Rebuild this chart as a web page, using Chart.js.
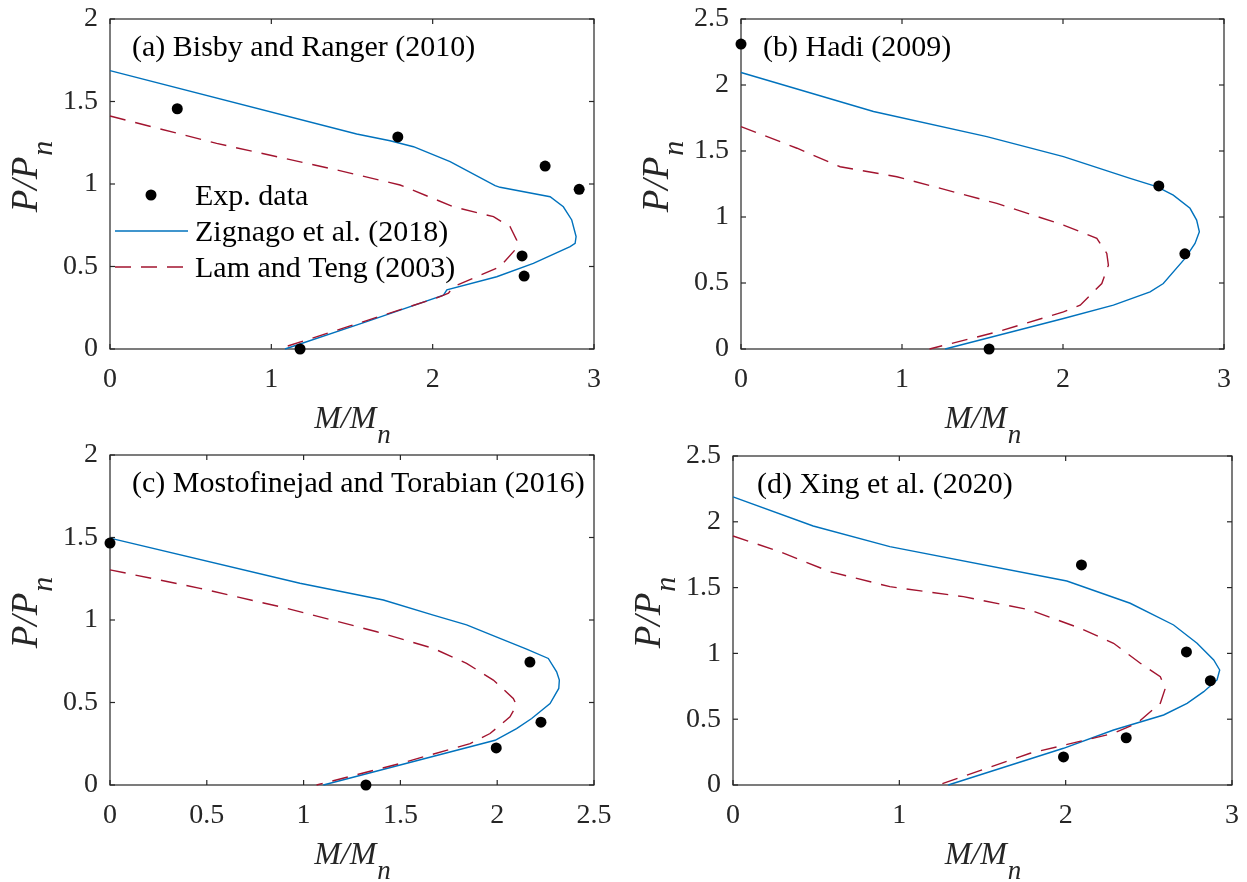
<!DOCTYPE html>
<html><head><meta charset="utf-8">
<script src="https://cdn.jsdelivr.net/npm/chart.js@4.4.0/dist/chart.umd.min.js"></script>
<style>
html,body{margin:0;padding:0;background:#fff;}
body{width:1247px;height:882px;position:relative;overflow:hidden;}
canvas{position:absolute;}
</style></head><body>
<canvas id="ca"></canvas><canvas id="cb"></canvas><canvas id="cc"></canvas><canvas id="cd"></canvas>
<script>
// ---- data ----
const seriesNames = ["Exp. data", "Zignago et al. (2018)", "Lam and Teng (2003)"];
const titles = ["(a) Bisby and Ranger (2010)", "(b) Hadi (2009)", "(c) Mostofinejad and Torabian (2016)", "(d) Xing et al. (2020)"];

const xTicks3 = [0, 1, 2, 3];
const xTicks25 = [0, 0.5, 1, 1.5, 2, 2.5];
const yTicks2 = [0, 0.5, 1, 1.5, 2];
const yTicks25 = [0, 0.5, 1, 1.5, 2, 2.5];

// (a)
const aExpM = [0.417, 1.784, 2.697, 2.908, 2.554, 2.567, 1.178];
const aExpP = [1.456, 1.285, 1.109, 0.968, 0.564, 0.442, 0];
const aZigM = [0, 1.529, 1.736, 1.881, 2.108, 2.387, 2.418, 2.728, 2.81, 2.862, 2.889, 2.883, 2.852, 2.624, 2.397, 2.088, 2.067, 1.591, 1.085];
const aZigP = [1.687, 1.303, 1.262, 1.226, 1.135, 0.99, 0.98, 0.923, 0.862, 0.782, 0.681, 0.64, 0.62, 0.519, 0.438, 0.358, 0.327, 0.166, 0];
const aLamM = [0, 0.661, 1.384, 1.798, 2.129, 2.377, 2.48, 2.521, 2.51, 2.418, 2.129, 2.098, 2.046, 1.591, 1.044];
const aLamP = [1.412, 1.246, 1.09, 0.994, 0.862, 0.802, 0.741, 0.66, 0.6, 0.499, 0.378, 0.338, 0.317, 0.172, 0];
// (b)
const bExpM = [0, 2.595, 2.757, 1.541];
const bExpP = [2.31, 1.235, 0.721, 0];
const bZigM = [0, 0.823, 1.527, 2.003, 2.417, 2.582, 2.685, 2.789, 2.830, 2.847, 2.82, 2.758, 2.623, 2.541, 2.313, 2.003, 1.268];
const bZigP = [2.095, 1.799, 1.609, 1.457, 1.293, 1.230, 1.166, 1.066, 0.977, 0.888, 0.800, 0.686, 0.496, 0.433, 0.332, 0.231, 0];
const bLamM = [0, 0.348, 0.616, 0.968, 1.589, 2.003, 2.21, 2.272, 2.282, 2.241, 2.107, 2.003, 1.589, 1.171];
const bLamP = [1.685, 1.521, 1.381, 1.305, 1.103, 0.939, 0.838, 0.724, 0.635, 0.496, 0.332, 0.281, 0.129, 0];
// (c)
const cExpM = [0, 2.169, 2.226, 1.995, 1.322];
const cExpP = [1.466, 0.745, 0.381, 0.225, 0];
const cZigM = [0, 0.981, 1.412, 1.670, 1.842, 2.014, 2.152, 2.264, 2.307, 2.321, 2.318, 2.273, 2.178, 2.100, 1.989, 1.102];
const cZigP = [1.496, 1.223, 1.121, 1.030, 0.970, 0.889, 0.824, 0.767, 0.686, 0.636, 0.585, 0.494, 0.403, 0.342, 0.271, 0];
const cLamM = [0, 0.465, 0.913, 1.378, 1.670, 1.842, 1.980, 2.083, 2.100, 2.066, 1.963, 1.860, 1.498, 1.067];
const cLamP = [1.304, 1.192, 1.071, 0.929, 0.828, 0.737, 0.636, 0.525, 0.484, 0.413, 0.312, 0.251, 0.130, 0];
// (d)
const dExpM = [2.095, 2.726, 2.87, 2.364, 1.987];
const dExpP = [1.672, 1.011, 0.793, 0.359, 0.213];
const dZigM = [0, 0.482, 0.943, 2.007, 2.388, 2.649, 2.79, 2.89, 2.926, 2.91, 2.83, 2.73, 2.589, 2.288, 1.987, 1.294];
const dZigP = [2.19, 1.968, 1.811, 1.55, 1.381, 1.216, 1.077, 0.95, 0.874, 0.798, 0.709, 0.621, 0.532, 0.418, 0.279, 0];
const dLamM = [0, 0.281, 0.582, 0.943, 1.385, 1.786, 2.087, 2.288, 2.449, 2.569, 2.599, 2.569, 2.429, 2.288, 1.786, 1.234];
const dLamP = [1.892, 1.773, 1.621, 1.507, 1.431, 1.330, 1.191, 1.077, 0.925, 0.823, 0.735, 0.621, 0.469, 0.393, 0.241, 0];

// ---- styling ----
const BLUE = '#0072BD', RED = '#A2142F', AXC = '#262626';
const SERIF = '"Liberation Serif", "Times New Roman", serif';
const PAD_L = 110, PAD_T = 50, PAD_R = 40, PAD_B = 100;

const pts = (xs, ys) => xs.map((x, i) => ({x: x, y: ys[i]}));
const fmt = v => String(Math.round(v * 100) / 100);

const panels = [
  {id: 'ca', box: {l: 110, t: 19, r: 594, b: 349}, xMax: 3, yMax: 2, xt: xTicks3, yt: yTicks2, title: titles[0], tdx: 22, legend: true,
   exp: [aExpM, aExpP], zig: [aZigM, aZigP], lam: [aLamM, aLamP]},
  {id: 'cb', box: {l: 741, t: 19, r: 1224, b: 349}, xMax: 3, yMax: 2.5, xt: xTicks3, yt: yTicks25, title: titles[1], tdx: 22, legend: false,
   exp: [bExpM, bExpP], zig: [bZigM, bZigP], lam: [bLamM, bLamP]},
  {id: 'cc', box: {l: 110, t: 455, r: 594, b: 785}, xMax: 2.5, yMax: 2, xt: xTicks25, yt: yTicks2, title: titles[2], tdx: 22, legend: false,
   exp: [cExpM, cExpP], zig: [cZigM, cZigP], lam: [cLamM, cLamP]},
  {id: 'cd', box: {l: 733, t: 456, r: 1232, b: 785}, xMax: 3, yMax: 2.5, xt: xTicks3, yt: yTicks25, title: titles[3], tdx: 24, legend: false,
   exp: [dExpM, dExpP], zig: [dZigM, dZigP], lam: [dLamM, dLamP]}
];

function line(ctx, x1, y1, x2, y2) { ctx.beginPath(); ctx.moveTo(x1, y1); ctx.lineTo(x2, y2); ctx.stroke(); }

function drawLabel(ctx, main, sub, x, y, rotate, size, subSize, subDrop) {
  ctx.save();
  ctx.translate(x, y);
  if (rotate) ctx.rotate(-Math.PI / 2);
  ctx.fillStyle = AXC;
  ctx.textBaseline = 'alphabetic';
  ctx.textAlign = 'left';
  ctx.font = 'italic ' + size + 'px ' + SERIF;
  const w1 = ctx.measureText(main).width;
  ctx.font = 'italic ' + subSize + 'px ' + SERIF;
  const w2 = ctx.measureText(sub).width;
  const start = -(w1 + w2) / 2;
  ctx.font = 'italic ' + size + 'px ' + SERIF;
  ctx.fillText(main, start, 0);
  ctx.font = 'italic ' + subSize + 'px ' + SERIF;
  ctx.fillText(sub, start + w1 + 1, subDrop);
  ctx.restore();
}

const framePlugin = {
  id: 'frame',
  beforeDatasetsDraw(chart) {
    const ctx = chart.ctx, ca = chart.chartArea, xs = chart.scales.x, ys = chart.scales.y;
    ctx.save();
    ctx.strokeStyle = AXC; ctx.lineWidth = 1.2;
    ctx.strokeRect(ca.left, ca.top, ca.right - ca.left, ca.bottom - ca.top);
    xs.ticks.forEach(t => { const p = xs.getPixelForValue(t.value); line(ctx, p, ca.bottom, p, ca.bottom - 5); line(ctx, p, ca.top, p, ca.top + 5); });
    ys.ticks.forEach(t => { const p = ys.getPixelForValue(t.value); line(ctx, ca.left, p, ca.left + 5, p); line(ctx, ca.right, p, ca.right - 5, p); });
    ctx.restore();
  },
  afterDraw(chart) {
    const ctx = chart.ctx, ca = chart.chartArea, cfg = chart.options.plugins.frame;
    ctx.save();
    ctx.fillStyle = '#000';
    ctx.font = '30px ' + SERIF;
    ctx.textBaseline = 'alphabetic';
    ctx.textAlign = 'left';
    ctx.fillText(cfg.title, ca.left + cfg.tdx, ca.top + 37);
    if (cfg.legend) {
      const lx = ca.left + 5, lx2 = ca.left + 78, tx = ca.left + 85;
      ctx.fillStyle = '#000';
      ctx.beginPath(); ctx.arc(ca.left + 41, ca.top + 176, 5.5, 0, Math.PI * 2); ctx.fill();
      ctx.fillText(seriesNames[0], tx, ca.top + 186);
      ctx.strokeStyle = BLUE; ctx.lineWidth = 1.5;
      line(ctx, lx, ca.top + 212, lx2, ca.top + 212);
      ctx.fillText(seriesNames[1], tx, ca.top + 222);
      ctx.strokeStyle = RED; ctx.setLineDash([16, 10]);
      line(ctx, lx, ca.top + 248, lx2, ca.top + 248);
      ctx.setLineDash([]);
      ctx.fillText(seriesNames[2], tx, ca.top + 258);
    }
    ctx.restore();
    const cx = (ca.left + ca.right) / 2;
    drawLabel(ctx, 'M/M', 'n', cx, ca.bottom + 79, false, 32, 27, 15);
    drawLabel(ctx, 'P/P', 'n', ca.left - 73, ca.bottom - 172, true, 37, 30, 15);
  }
};

panels.forEach(p => {
  const cv = document.getElementById(p.id);
  const w = (p.box.r - p.box.l) + PAD_L + PAD_R;
  const h = (p.box.b - p.box.t) + PAD_T + PAD_B;
  cv.width = w; cv.height = h;
  cv.style.width = w + 'px'; cv.style.height = h + 'px';
  cv.style.left = (p.box.l - PAD_L) + 'px';
  cv.style.top = (p.box.t - PAD_T) + 'px';
  const tickFont = {family: SERIF, size: 28};
  const chart = new Chart(cv, {
    type: 'scatter',
    data: {
      datasets: [
        {label: seriesNames[0], data: pts(p.exp[0], p.exp[1]), showLine: false, pointRadius: 5.5, pointBackgroundColor: '#000', pointBorderWidth: 0, clip: false},
        {label: seriesNames[2], data: pts(p.lam[0], p.lam[1]), showLine: true, borderColor: RED, borderWidth: 1.4, borderDash: [16, 10], pointRadius: 0, fill: false, tension: 0, clip: false},
        {label: seriesNames[1], data: pts(p.zig[0], p.zig[1]), showLine: true, borderColor: BLUE, borderWidth: 1.4, pointRadius: 0, fill: false, tension: 0, clip: false}
      ]
    },
    options: {
      responsive: false, animation: false, devicePixelRatio: 1,
      layout: {padding: {left: 0, top: PAD_T, right: PAD_R, bottom: 0}},
      plugins: {legend: {display: false}, tooltip: {enabled: false},
        frame: {title: p.title, tdx: p.tdx, legend: p.legend}},
      scales: {
        x: {type: 'linear', min: 0, max: p.xMax,
          afterBuildTicks: s => { s.ticks = p.xt.map(v => ({value: v})); },
          afterFit: s => { s.height = PAD_B; },
          grid: {display: false, drawTicks: false}, border: {display: false},
          ticks: {font: tickFont, color: AXC, padding: 14, maxRotation: 0, autoSkip: false, callback: v => fmt(v)}},
        y: {type: 'linear', min: 0, max: p.yMax,
          afterBuildTicks: s => { s.ticks = p.yt.map(v => ({value: v})); },
          afterFit: s => { s.width = PAD_L; },
          grid: {display: false, drawTicks: false}, border: {display: false},
          ticks: {font: tickFont, color: AXC, padding: 12, autoSkip: false, callback: v => fmt(v)}}
      }
    },
    plugins: [framePlugin]
  });
  // keep the plot box exactly where the reference has it
  const ca = chart.chartArea;
  cv.style.left = (p.box.l - ca.left) + 'px';
  cv.style.top = (p.box.t - ca.top) + 'px';
});
</script>
</body></html>
